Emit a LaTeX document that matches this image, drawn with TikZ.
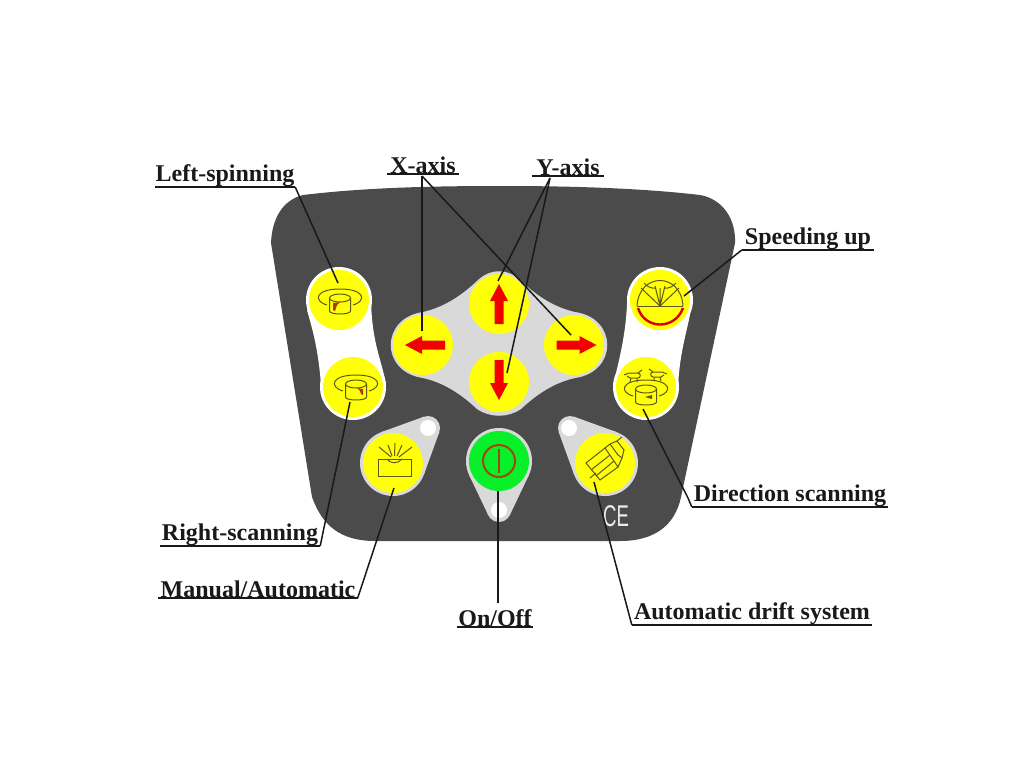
\documentclass[tikz,border=0pt]{standalone}
\usepackage{fontspec}
\setmainfont{Liberation Serif}
\newfontfamily\cefont{Liberation Sans}
\definecolor{bodygrey}{HTML}{4B4B4B}
\definecolor{lobegrey}{HTML}{D9D9D9}
\definecolor{btnyellow}{HTML}{FFFF08}
\definecolor{iconink}{HTML}{5E5A14}
\definecolor{btngreen}{HTML}{08F02A}
\definecolor{ringbrown}{HTML}{A0480F}
\definecolor{redbrown}{HTML}{B03A10}
\tikzset{
 btn/.style={circle,fill=btnyellow,inner sep=0pt,minimum size=60pt},
 lab/.style={anchor=south,inner xsep=0pt,inner ysep=0.5pt,font=\bfseries\fontsize{24}{24}\selectfont,text=black!90},
 leader/.style={draw=black!90,line width=1.5pt},
 icon/.style={draw=iconink,line width=1pt},
 redarrow/.pic={\fill[red!95!black] (-20,0)--(-3,-9)--(-3,-4.5)--(20,-4.5)--(20,4.5)--(-3,4.5)--(-3,9)--cycle;},
 cyl/.pic={
   \draw[icon] (-10.5,0)--(-10.5,13) .. controls (-10.5,17) and (10.5,17) .. (10.5,13)--(10.5,0);
   \draw[icon] (0,0) ellipse[x radius=10.5,y radius=4];
   \draw[icon] (-13,7) .. controls (-27,3) and (-25,-9) .. (0,-9) .. controls (25,-9) and (27,3) .. (13,7);
 }
}
\begin{document}
\begin{tikzpicture}[x=1pt,y=-1pt]
\useasboundingbox (0,0) rectangle (1024,768);
\fill[white] (0,0) rectangle (1024,768);
% panel
\fill[bodygrey] (271,243) .. controls (272,218) and (283,200) .. (303,195)
  .. controls (370,187) and (440,186) .. (503,186)
  .. controls (570,186) and (640,188) .. (700,195)
  .. controls (722,199) and (736,218) .. (735,243)
  -- (681,497) .. controls (675,525) and (655,541) .. (620,541)
  -- (375,541) .. controls (340,541) and (322,525) .. (312,497) -- cycle;
% white halos
\fill[white] (339,300) circle[radius=33];
\fill[white] (353,387) circle[radius=33];
\fill[white] (307,310) .. controls (311,325) and (318,345) .. (321,385)
  -- (386,385) .. controls (382,360) and (372,345) .. (371,300) -- cycle;
\fill[white] (660,300) circle[radius=33];
\fill[white] (646,387) circle[radius=33];
\fill[white] (692,300) .. controls (690,325) and (680,345) .. (678,387)
  -- (613,385) .. controls (618,365) and (626,335) .. (627,303) -- cycle;
% cross pad
\fill[lobegrey] (423,312) .. controls (445,307) and (462,295) .. (477,281)
  .. controls (490,268) and (508,268) .. (521,281)
  .. controls (536,295) and (553,307) .. (575,312)
  .. controls (618,318) and (618,372) .. (575,378)
  .. controls (553,383) and (536,395) .. (521,409)
  .. controls (508,418) and (490,418) .. (477,409)
  .. controls (462,395) and (445,383) .. (423,378)
  .. controls (380,372) and (380,318) .. (423,312) -- cycle;
% teardrop lobes
\fill[lobegrey] (393,463) circle[radius=33] (428,428) circle[radius=12];
\fill[lobegrey] (381.7,432)--(423.9,416.7)--(439.3,432.1)--(424,474.3)--cycle;
\fill[lobegrey] (605,463) circle[radius=33] (570,428) circle[radius=12];
\fill[lobegrey] (616.3,432)--(574.1,416.7)--(558.7,432.1)--(574,474.3)--cycle;
\fill[lobegrey] (499,461) circle[radius=33] (499,510) circle[radius=12];
\fill[lobegrey] (528.8,475.2)--(509.8,515.1)--(488.2,515.1)--(469.2,475.2)--cycle;
\fill[white] (428,428) circle[radius=8] (569,428) circle[radius=8] (499,510) circle[radius=8];
% buttons
\node[btn] (bls) at (339,300) {};
\node[btn] (brs) at (353,387) {};
\node[btn] (bma) at (393,463) {};
\node[btn] (bxl) at (423,345) {};
\node[btn] (bxr) at (574,345) {};
\node[btn] (byu) at (499,304) {};
\node[btn] (byd) at (499,382) {};
\node[btn,fill=btngreen] (bpw) at (499,461) {};
\node[btn] (bdr) at (605,463) {};
\node[btn] (bsp) at (660,300) {};
\node[btn] (bds) at (646,387) {};
% arrows
\pic at (425,345) {redarrow};
\pic[rotate=180] at (576.5,345) {redarrow};
\pic[rotate=-90] at (499,304) {redarrow};
\pic[rotate=90] at (499,380) {redarrow};
% power
\draw[ringbrown,line width=2pt] (499,461) circle[radius=16];
\draw[ringbrown,line width=1.6pt] (499,449)--(499,473);
% spin icons
\pic at (340,298) {cyl};
\fill[redbrown] (333,303)--(340,302)--(337,305)--(335,311)--(333,310)--cycle;
\pic at (356,384) {cyl};
\fill[redbrown] (357,388)--(363,389)--(363,395)--(361,394)--(360,391)--cycle;
\pic at (646,389) {cyl};
\fill[iconink] (645,397)--(652,395)--(652,399)--cycle;
% animals
\begin{scope}[shift={(633,376)}]
 \draw[icon] (-9,-1)--(-4,-3)--(5,-3) .. controls (8,-3) and (8,2) .. (5,2) -- (-3,2) -- (-6,0);
 \draw[icon] (-2,2)--(-3,6) (4,2)--(4,6) (5,-3)--(9,-6);
\end{scope}
\begin{scope}[shift={(658,375)}]
 \draw[icon] (9,-1)--(4,-3)--(-5,-3) .. controls (-8,-3) and (-8,2) .. (-5,2) -- (3,2) -- (6,0);
 \draw[icon] (2,2)--(3,6) (-4,2)--(-4,6) (-5,-3)--(-9,-6);
\end{scope}
% fan icon
\draw[icon] (637,306)--(683,306);
\draw[icon] (637,306) .. controls (639,272) and (681,272) .. (683,306);
\draw[icon] (660,306)--(641,288) (660,306)--(679,288);
\draw[icon] (660,306)--(655,286) (660,306)--(665,286) (660,306)--(660,288);
\draw[icon] (644,283) .. controls (647,287) and (653,289) .. (656,288);
\draw[icon] (676,283) .. controls (673,287) and (667,289) .. (664,288);
\draw[red!85!black,line width=2.4pt] (638,308) .. controls (645,330) and (675,330) .. (683,308);
% manual icon
\draw[icon] (378,459) rectangle (411,476);
\draw[icon] (387,459) .. controls (390,464) and (398,464) .. (402,459);
\draw[icon] (391,457)--(379,447) (392,456)--(388,445) (394.5,456)--(395,443) (397,456)--(402,445) (399,457)--(412,447);
% drift icon
\draw[icon] (586,463)--(605,448)--(618,467)--(600,480)--cycle;
\draw[icon] (591,470)--(610,455)  (596,476)--(614,461);
\draw[icon] (605,448)--(610,444)--(617,441)--(624,450)--(622,458)--(618,467);
\draw[icon] (610,444)--(618,455)--(622,458) (617,441)--(622,437);
\draw[icon] (590,478)--(596,473);
% CE
\node[text=white!92!black,font=\cefont\fontsize{30}{30}\selectfont,inner sep=0pt,xscale=.62] (ce) at (616,516) {CE};
% labels
\node[lab,minimum width=140pt] (lls) at (225,187) {Left-spinning};
\node[lab,minimum width=72pt] (lx) at (423,174) {X-axis};
\node[lab,minimum width=72pt] (ly) at (568,176) {Y-axis};
\node[lab,minimum width=132pt] (lsp) at (808,250) {Speeding up};
\node[lab,minimum width=196pt] (lds) at (790,507) {Direction scanning};
\node[lab,minimum width=160pt] (lrs) at (240,546) {Right-scanning};
\node[lab,minimum width=199pt] (lma) at (258,598) {Manual/Automatic};
\node[lab,minimum width=76pt] (lon) at (495,627) {On/Off};
\node[lab,minimum width=240pt] (ldr) at (752,625) {Automatic drift system};
\foreach \n in {lls,lx,ly,lsp,lds,lrs,lma,lon,ldr}
  \draw[leader] (\n.south west)--(\n.south east);
% leader targets
\coordinate (tls) at (338,283);
\coordinate (trs) at (350,402);
\coordinate (tma) at (394,488);
\coordinate (txl) at (422,331);
\coordinate (txr) at (571,335);
\coordinate (tyu) at (498,281);
\coordinate (tyd) at (507,373);
\coordinate (tsp) at (684,296);
\coordinate (tds) at (643,409);
\coordinate (tdr) at (594,482);
\coordinate (tpw) at (498,491);
\coordinate (xo) at (422,176);
\coordinate (yo) at (550,178);
\coordinate (dsk) at (688,498);
\coordinate (pwo) at (498,603);
\draw[leader] (lls.south east)--(tls);
\draw[leader] (lrs.south east)--(trs);
\draw[leader] (lma.south east)--(tma);
\draw[leader] (xo)--(txl);
\draw[leader] (xo)--(txr);
\draw[leader] (yo)--(tyu);
\draw[leader] (yo)--(tyd);
\draw[leader] (lsp.south west)--(tsp);
\draw[leader] (lds.south west)--(dsk)--(tds);
\draw[leader] (ldr.south west)--(tdr);
\draw[leader] (pwo)--(tpw);
\end{tikzpicture}
\end{document}
